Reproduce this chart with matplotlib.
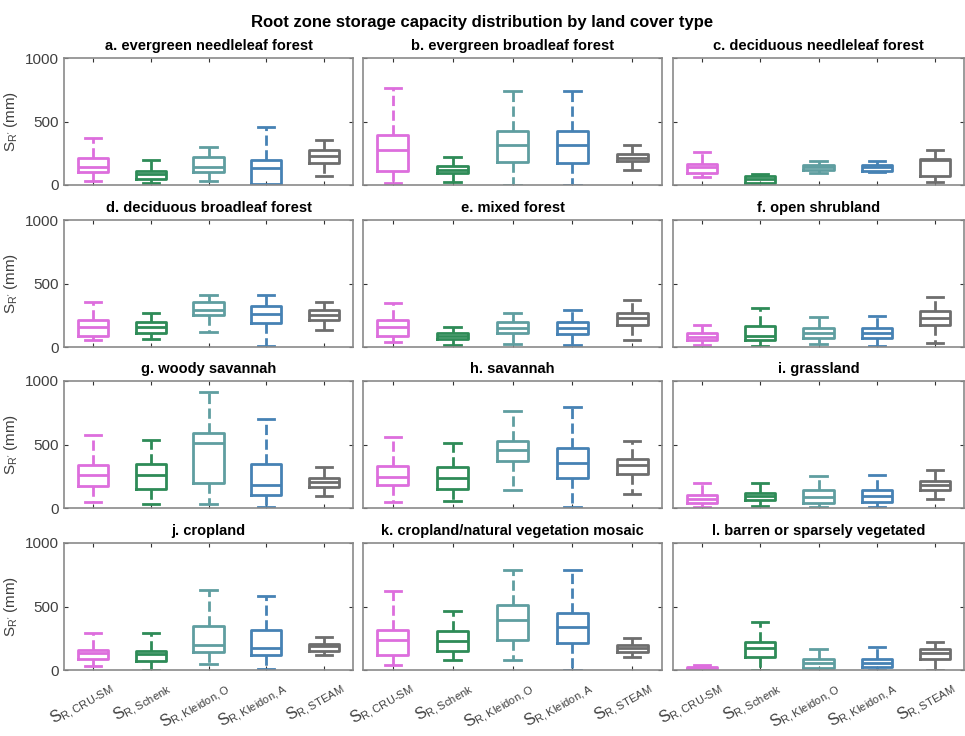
import numpy as np
import matplotlib
matplotlib.use("Agg")
import matplotlib.pyplot as plt
import matplotlib.transforms as mtransforms

plt.rcParams['font.family'] = ['Liberation Sans', 'DejaVu Sans']
plt.rcParams['mathtext.fontset'] = 'custom'
plt.rcParams['mathtext.rm'] = 'Liberation Sans'
plt.rcParams['mathtext.it'] = 'Liberation Sans'

#%% data (mm)
titles = ['a. evergreen needleleaf forest', 'b. evergreen broadleaf forest', 'c. deciduous needleleaf forest',
          'd. deciduous broadleaf forest', 'e. mixed forest', 'f. open shrubland',
          'g. woody savannah', 'h. savannah', 'i. grassland',
          'j. cropland', 'k. cropland/natural vegetation mosaic', 'l. barren or sparsely vegetated']
sources = ['CRU\\text{-}SM', 'Schenk', 'Kleidon,O', 'Kleidon,A', 'STEAM']
colors = ['#DD6EDD', '#2E8B57', '#5F9EA0', '#4682B4', '#6E6E6E']

# per panel: CRU-SM, Schenk, Kleidon O, Kleidon A, STEAM
whis_hi = [[370, 193, 296, 458, 357], [767, 220, 738, 741, 315], [263, 89, 187, 189, 274],
           [354, 268, 409, 409, 354], [346, 157, 268, 291, 370], [173, 307, 236, 244, 394],
           [571, 539, 917, 704, 323], [556, 511, 762, 798, 526], [197, 197, 252, 260, 299],
           [291, 291, 630, 583, 260], [622, 465, 787, 787, 252], [39, 377, 169, 179, 221]]
q3 = [[212, 114, 217, 193, 278], [392, 153, 426, 426, 243], [168, 68, 155, 155, 208],
      [213, 197, 354, 323, 291], [213, 110, 197, 197, 268], [110, 165, 150, 150, 283],
      [339, 344, 592, 347, 237], [333, 322, 531, 469, 387], [102, 118, 142, 142, 213],
      [157, 150, 346, 315, 205], [315, 307, 512, 449, 197], [23, 218, 83, 83, 169]]
med = [[140, 87, 145, 132, 225], [278, 119, 317, 317, 214], [140, 50, 142, 142, 200],
       [157, 157, 291, 260, 252], [157, 87, 150, 150, 228], [79, 87, 110, 110, 228],
       [261, 261, 509, 179, 203], [241, 233, 453, 353, 338], [71, 94, 87, 94, 181],
       [134, 126, 197, 173, 189], [236, 228, 394, 339, 173], [13, 174, 52, 52, 130]]
q1 = [[100, 48, 106, 8, 175], [114, 93, 185, 175, 188], [95, 18, 121, 110, 71],
      [87, 110, 252, 189, 213], [87, 63, 110, 102, 173], [55, 55, 71, 71, 173],
      [176, 152, 195, 101, 165], [178, 149, 372, 236, 270], [39, 63, 39, 47, 142],
      [87, 71, 142, 118, 150], [118, 150, 236, 213, 142], [5, 101, 18, 23, 83]]
whis_lo = [[29, 16, 34, 0, 71], [13, 26, 0, 0, 122], [63, 5, 95, 105, 24],
           [55, 63, 118, 8, 134], [39, 16, 24, 16, 55], [16, 8, 24, 8, 31],
           [48, 29, 35, 5, 91], [45, 52, 144, 8, 107], [8, 16, 8, 8, 71],
           [31, 0, 47, 8, 118], [39, 79, 79, 0, 102], [3, 3, 3, 3, 3]]

#%% layout
W, H = 965, 736
fig = plt.figure(figsize=(W / 100, H / 100), dpi=100)
lefts = [64, 363, 673]
widths = [289, 299, 291]
tops = [58, 220, 381, 543]
ax_h = 127
spine_col = '#8a8a8a'
shift = mtransforms.ScaledTranslation(14 / 100, -3 / 100, fig.dpi_scale_trans)

for i in range(12):
    r, c = divmod(i, 3)
    ax = fig.add_axes([lefts[c] / W, 1 - (tops[r] + ax_h) / H, widths[c] / W, ax_h / H])
    stats = [dict(whislo=whis_lo[i][k], q1=q1[i][k], med=med[i][k], q3=q3[i][k], whishi=whis_hi[i][k])
             for k in range(5)]
    bp = ax.bxp(stats, positions=np.arange(1, 6), widths=0.52, capwidths=0.28, showfliers=False,
                boxprops=dict(lw=2), medianprops=dict(lw=2),
                whiskerprops=dict(lw=2, ls='--'), capprops=dict(lw=2))
    for k in range(5):
        col = colors[k]
        bp['boxes'][k].set_color(col)
        bp['medians'][k].set_color(col)
        for j in (2 * k, 2 * k + 1):
            bp['whiskers'][j].set_color(col)
            bp['caps'][j].set_color(col)

    ax.set_xlim(0.5, 5.5)
    ax.set_ylim(0, 1000)
    ax.set_yticks([0, 500, 1000])
    ax.set_xticks(np.arange(1, 6))
    ax.tick_params(direction='in', top=True, right=True, length=3, width=0.8,
                   color='#333333', labelcolor='#404040', labelsize=11)
    for s in ax.spines.values():
        s.set_color(spine_col)
        s.set_linewidth(1.2)
    ax.set_title(titles[i], fontsize=10.5, fontweight='bold', pad=6)

    if c == 0:
        ax.set_ylabel("$\\mathregular{S_{R'}}$ (mm)", fontsize=11, color='#404040', labelpad=4)
    else:
        ax.set_yticklabels([])
    if r == 3:
        labs = ['$\\mathregular{S_{R,' + s + '}}$' for s in sources]
        ax.set_xticklabels(labs, rotation=30, ha='right', va='top', rotation_mode='anchor', fontsize=11.5)
        for t in ax.get_xticklabels():
            t.set_transform(t.get_transform() + shift)
    else:
        ax.set_xticklabels([])

fig.suptitle('Root zone storage capacity distribution by land cover type',
             fontsize=12, fontweight='bold', y=1 - 15 / H)

plt.savefig('out.png', dpi=100)
